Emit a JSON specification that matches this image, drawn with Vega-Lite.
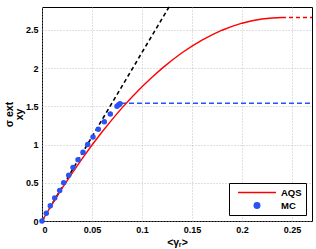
{
  "$schema": "https://vega.github.io/schema/vega-lite/v6.json",
  "autosize": "none",
  "width": 270,
  "height": 214,
  "padding": {"left": 42, "top": 7, "right": 4, "bottom": 28},
  "background": "white",
  "config": {
    "view": {"stroke": "black", "strokeWidth": 1},
    "font": "Liberation Sans",
    "axis": {
      "labelFont": "Liberation Sans",
      "labelFontWeight": "bold",
      "labelFontSize": 9,
      "labelColor": "black",
      "titleFont": "Liberation Sans",
      "titleFontWeight": "bold",
      "titleFontSize": 10.5,
      "titleColor": "black",
      "grid": true,
      "gridColor": "#b0b0b0",
      "gridDash": [1, 2],
      "gridWidth": 0.8,
      "domain": false,
      "ticks": false,
      "labelPadding": 4
    }
  },
  "datasets": {
    "aqs": [
      {"x": 0, "y": 0}, {"x": 0.01, "y": 0.217}, {"x": 0.02, "y": 0.426}, {"x": 0.03, "y": 0.624},
      {"x": 0.04, "y": 0.814}, {"x": 0.05, "y": 0.994}, {"x": 0.06, "y": 1.165}, {"x": 0.07, "y": 1.327},
      {"x": 0.08, "y": 1.48}, {"x": 0.09, "y": 1.623}, {"x": 0.1, "y": 1.757}, {"x": 0.11, "y": 1.882},
      {"x": 0.12, "y": 1.997}, {"x": 0.13, "y": 2.104}, {"x": 0.14, "y": 2.201}, {"x": 0.15, "y": 2.288},
      {"x": 0.16, "y": 2.367}, {"x": 0.17, "y": 2.436}, {"x": 0.18, "y": 2.496}, {"x": 0.19, "y": 2.547},
      {"x": 0.2, "y": 2.588}, {"x": 0.21, "y": 2.62}, {"x": 0.22, "y": 2.643}, {"x": 0.23, "y": 2.657},
      {"x": 0.24, "y": 2.662}
    ],
    "aqsext": [{"x": 0.24, "y": 2.662}, {"x": 0.27, "y": 2.662}],
    "lin": [{"x": 0, "y": 0}, {"x": 0.127, "y": 2.8}],
    "mcext": [{"x": 0.079, "y": 1.54}, {"x": 0.27, "y": 1.54}],
    "mc": [
      {"x": 0, "y": 0, "series": "MC"}, {"x": 0.0043, "y": 0.1, "series": "MC"}, {"x": 0.0083, "y": 0.2, "series": "MC"},
      {"x": 0.0127, "y": 0.3, "series": "MC"}, {"x": 0.0177, "y": 0.4, "series": "MC"}, {"x": 0.0217, "y": 0.5, "series": "MC"},
      {"x": 0.0267, "y": 0.6, "series": "MC"}, {"x": 0.031, "y": 0.7, "series": "MC"}, {"x": 0.036, "y": 0.8, "series": "MC"},
      {"x": 0.041, "y": 0.9, "series": "MC"}, {"x": 0.0457, "y": 1.0, "series": "MC"}, {"x": 0.051, "y": 1.1, "series": "MC"},
      {"x": 0.0563, "y": 1.2, "series": "MC"}, {"x": 0.0623, "y": 1.3, "series": "MC"}, {"x": 0.0683, "y": 1.4, "series": "MC"},
      {"x": 0.075, "y": 1.5, "series": "MC"}, {"x": 0.0767, "y": 1.52, "series": "MC"}, {"x": 0.078, "y": 1.535, "series": "MC"}
    ]
  },
  "encoding": {
    "x": {"field": "x", "type": "quantitative", "scale": {"domain": [0, 0.27], "nice": false},
      "axis": {"values": [0, 0.05, 0.1, 0.15, 0.2, 0.25], "format": ".2~f", "title": "<γᵣ>", "titlePadding": 3}},
    "y": {"field": "y", "type": "quantitative", "scale": {"domain": [0, 2.8], "nice": false},
      "axis": {"values": [0, 0.5, 1, 1.5, 2, 2.5], "format": ".1~f", "title": ["σ ext", "    xy"], "titlePadding": 1, "titleLineHeight": 10}}
  },
  "layer": [
    {"data": {"name": "lin"}, "mark": {"type": "line", "color": "black", "strokeDash": [4, 3], "strokeWidth": 1.6}},
    {"data": {"name": "mcext"}, "mark": {"type": "line", "color": "#2a52f5", "strokeDash": [5, 3], "strokeWidth": 1.4}},
    {"data": {"name": "aqsext"}, "mark": {"type": "line", "color": "red", "strokeDash": [4, 3], "strokeWidth": 1.4}},
    {"data": {"name": "aqs"}, "transform": [{"calculate": "'AQS'", "as": "series"}],
      "mark": {"type": "line", "strokeWidth": 1.4},
      "encoding": {"color": {"field": "series", "type": "nominal", "scale": {"domain": ["AQS", "MC"], "range": ["red", "#2a52f5"]}}}},
    {"data": {"name": "mc"},
      "mark": {"type": "point", "filled": true, "opacity": 1},
      "encoding": {
        "color": {"field": "series", "type": "nominal", "scale": {"domain": ["AQS", "MC"], "range": ["red", "#2a52f5"]},
          "legend": {"title": null, "orient": "bottom-right", "offset": 6, "fillColor": "white", "strokeColor": "black",
            "padding": 4, "labelFontWeight": "bold", "labelFontSize": 9.5, "labelColor": "black", "labelFont": "Liberation Sans",
            "symbolStrokeWidth": 1.5, "rowPadding": 2, "labelOffset": 4, "symbolOffset": 4, "clipHeight": 11,
            "labelExpr": "datum.label + '    '",
            "encode": {"symbols": {"update": {"stroke": {"scale": "color", "field": "value"}}}}}},
        "shape": {"field": "series", "type": "nominal", "scale": {"domain": ["AQS", "MC"], "range": ["stroke", "circle"]}},
        "size": {"field": "series", "type": "nominal", "scale": {"type": "ordinal", "domain": ["AQS", "MC"], "range": [1444, 30]}}
      }}
  ]
}
